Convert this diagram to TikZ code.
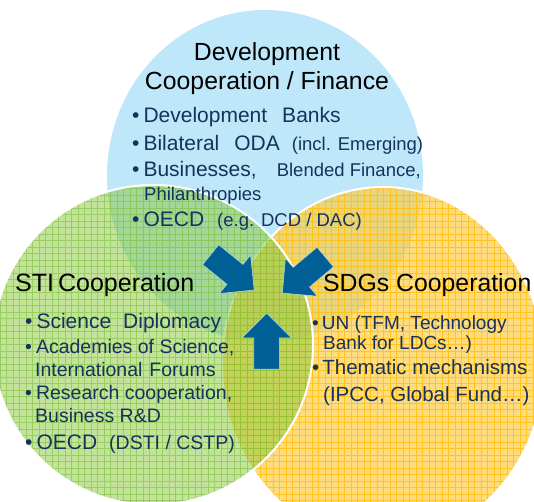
\documentclass[tikz,border=0pt]{standalone}
\usepackage{fontspec}
\setmainfont{Liberation Sans}
\usetikzlibrary{shapes.arrows}

\definecolor{devblue}{RGB}{190,232,250}
\definecolor{stigreen}{RGB}{135,200,55}
\definecolor{stigrid}{RGB}{125,192,60}
\definecolor{sdgorange}{RGB}{255,205,70}
\definecolor{sdggrid}{RGB}{255,190,10}
\definecolor{itemnavy}{RGB}{22,50,92}
\definecolor{arrowblue}{RGB}{0,96,150}

\tikzset{
  head/.style={inner sep=0pt, font=\fontsize{24.8}{29}\selectfont, text=black},
  entry/.style={inner sep=0pt, anchor=base west, font=\fontsize{21}{25}\selectfont, text=itemnavy},
  subentry/.style={entry, font=\fontsize{19.5}{23}\selectfont},
  bigarrow/.style={single arrow, fill=arrowblue, draw=arrowblue!25!white, line width=0.5pt,
    inner xsep=0pt, inner ysep=12.5pt, text height=0pt, text depth=0pt,
    minimum height=56pt, single arrow head extend=12pt}
}
\newcommand{\sm}{\fontsize{18.5}{22}\selectfont}
\newcommand{\itm}{\textbullet\hspace{4pt}}

\begin{document}
\begin{tikzpicture}[x=1pt, y=-1pt]
  \useasboundingbox (0,0) rectangle (534,501);
  \clip (0,0) rectangle (534,501);
  \coordinate (devc) at (265,176);
  \coordinate (stic) at (153,345);
  \coordinate (sdgc) at (383,365);

  % circles
  \fill[devblue] (devc) ellipse [x radius=158pt, y radius=166pt];

  \begin{scope}
    \fill[sdgorange, fill opacity=0.7] (sdgc) ellipse [x radius=161pt, y radius=178pt];
    \clip (sdgc) ellipse [x radius=161pt, y radius=178pt];
    \draw[sdggrid, step=6.5pt, line width=1pt, opacity=0.8] (200,180) grid (560,560);
  \end{scope}
  \draw[white, line width=2pt] (sdgc) ellipse [x radius=161pt, y radius=178pt];

  \begin{scope}
    \fill[stigreen, fill opacity=0.5] (stic) circle [radius=160pt];
    \clip (stic) circle [radius=160pt];
    \draw[stigrid, step=6.5pt, line width=0.8pt, opacity=0.6] (-10,180) grid (320,510);
  \end{scope}
  \draw[white, line width=2pt] (stic) circle [radius=160pt];

  % development cooperation
  \node[head, anchor=base] (devt1) at (267,60) {Development};
  \node[head, anchor=base] (devt2) at (267,89.5) {Cooperation / Finance};
  \node[entry] (dev1) at (132,122.7) {\itm Development\hspace{15pt}Banks};
  \node[entry] (dev2) at (132,150) {\itm Bilateral\hspace{15pt}ODA\hspace{12pt}{\sm (incl. Emerging)}};
  \node[entry] (dev3) at (132,176) {\itm Businesses,\hspace{20pt}{\sm Blended Finance,}};
  \node[entry] (dev4) at (144,200) {\sm Philanthropies};
  \node[entry] (dev5) at (132,226) {\itm OECD\hspace{13pt}{\sm (e.g. DCD / DAC)}};

  % sti cooperation
  \node[head, anchor=base west, font=\fontsize{25}{29}\selectfont] (stit) at (15,291.7) {STI\hspace{4pt}Cooperation};
  \node[entry] (sti1) at (25,328.3) {\itm Science\hspace{12pt}Diplomacy};
  \node[subentry] (sti2) at (25,353.3) {\itm Academies of Science,};
  \node[subentry] (sti3) at (35,376.7) {International\hspace{7pt}Forums};
  \node[subentry] (sti4) at (25,399.3) {\itm Research cooperation,};
  \node[subentry] (sti5) at (35,422.7) {Business R\&D};
  \node[entry] (sti6) at (25,449.3) {\itm OECD\hspace{12pt}{\fontsize{19.5}{23}\selectfont (DSTI / CSTP)}};

  % sdgs cooperation
  \node[head, anchor=base west] (sdgt) at (323,291.7) {SDGs Cooperation};
  \node[entry, font=\fontsize{19}{23}\selectfont] (sdg1) at (312,329) {\textbullet\hspace{3pt}UN (TFM, Technology};
  \node[entry, font=\fontsize{19}{23}\selectfont] (sdg2) at (323,349.3) {Bank for LDCs…)};
  \node[entry, font=\fontsize{20.5}{24}\selectfont] (sdg3) at (312,374.3) {\textbullet\hspace{3pt}Thematic mechanisms};
  \node[entry, font=\fontsize{20.5}{24}\selectfont] (sdg4) at (323,401.7) {(IPCC, Global Fund…)};

  % arrows
  \node[bigarrow, rotate=-39] (arrl) at (227.5,268.3) {};
  \node[bigarrow, rotate=-140] (arrr) at (308.7,271) {};
  \node[bigarrow, rotate=90] (arru) at (266.7,347.5) {};
\end{tikzpicture}
\end{document}
